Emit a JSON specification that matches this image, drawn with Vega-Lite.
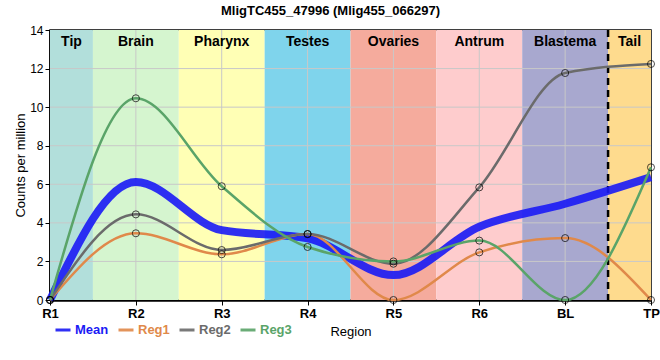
{
  "$schema": "https://vega.github.io/schema/vega-lite/v6.json",
  "width": 601,
  "height": 270,
  "autosize": "none",
  "padding": {"left": 50, "top": 30, "right": 9, "bottom": 60},
  "title": {"text": "MligTC455_47996 (Mlig455_066297)", "fontSize": 13, "fontWeight": "bold", "font": "Liberation Sans", "offset": 6, "dx": -20, "color": "#000"},
  "config": {
    "font": "Liberation Sans",
    "view": {"stroke": "#000", "strokeWidth": 1.5},
    "axis": {"grid": false},
    "axisY": {"tickCount": 8, "labelOverlap": false}
  },
  "datasets": {
    "bands": [
      {"region": "Tip", "start": 0, "end": 0.5, "mid": 0.25},
      {"region": "Brain", "start": 0.5, "end": 1.5, "mid": 1},
      {"region": "Pharynx", "start": 1.5, "end": 2.5, "mid": 2},
      {"region": "Testes", "start": 2.5, "end": 3.5, "mid": 3},
      {"region": "Ovaries", "start": 3.5, "end": 4.5, "mid": 4},
      {"region": "Antrum", "start": 4.5, "end": 5.5, "mid": 5},
      {"region": "Blastema", "start": 5.5, "end": 6.5, "mid": 6},
      {"region": "Tail", "start": 6.5, "end": 7, "mid": 6.75}
    ],
    "xgrid": [{"p": 1}, {"p": 2}, {"p": 3}, {"p": 4}, {"p": 5}, {"p": 6}],
    "ygrid": [{"v": 2}, {"v": 4}, {"v": 6}, {"v": 8}, {"v": 10}, {"v": 12}],
    "lines": [
      {"series": "Mean", "pos": 0, "value": 0},
      {"series": "Mean", "pos": 1, "value": 6.12},
      {"series": "Mean", "pos": 2, "value": 3.62},
      {"series": "Mean", "pos": 3, "value": 3.2},
      {"series": "Mean", "pos": 4, "value": 1.29},
      {"series": "Mean", "pos": 5, "value": 3.8},
      {"series": "Mean", "pos": 6, "value": 4.99},
      {"series": "Mean", "pos": 7, "value": 6.37},
      {"series": "Reg1", "pos": 0, "value": 0},
      {"series": "Reg1", "pos": 1, "value": 3.46},
      {"series": "Reg1", "pos": 2, "value": 2.37},
      {"series": "Reg1", "pos": 3, "value": 3.42},
      {"series": "Reg1", "pos": 4, "value": 0},
      {"series": "Reg1", "pos": 5, "value": 2.47},
      {"series": "Reg1", "pos": 6, "value": 3.21},
      {"series": "Reg1", "pos": 7, "value": 0},
      {"series": "Reg2", "pos": 0, "value": 0},
      {"series": "Reg2", "pos": 1, "value": 4.44},
      {"series": "Reg2", "pos": 2, "value": 2.59},
      {"series": "Reg2", "pos": 3, "value": 3.42},
      {"series": "Reg2", "pos": 4, "value": 1.88},
      {"series": "Reg2", "pos": 5, "value": 5.84},
      {"series": "Reg2", "pos": 6, "value": 11.77},
      {"series": "Reg2", "pos": 7, "value": 12.24},
      {"series": "Reg3", "pos": 0, "value": 0},
      {"series": "Reg3", "pos": 1, "value": 10.46},
      {"series": "Reg3", "pos": 2, "value": 5.9},
      {"series": "Reg3", "pos": 3, "value": 2.75},
      {"series": "Reg3", "pos": 4, "value": 2.0},
      {"series": "Reg3", "pos": 5, "value": 3.08},
      {"series": "Reg3", "pos": 6, "value": 0},
      {"series": "Reg3", "pos": 7, "value": 6.88}
    ]
  },
  "layer": [
    {
      "data": {"name": "bands"},
      "mark": {"type": "rect"},
      "encoding": {
        "x": {"field": "start", "type": "quantitative", "scale": {"domain": [0, 7], "nice": false, "zero": false}},
        "x2": {"field": "end"},
        "y": {"datum": 0, "type": "quantitative", "scale": {"domain": [0, 14], "nice": false}},
        "y2": {"datum": 14},
        "fill": {"field": "region", "type": "nominal", "legend": null,
          "scale": {"domain": ["Tip", "Brain", "Pharynx", "Testes", "Ovaries", "Antrum", "Blastema", "Tail"],
            "range": ["#b2dfdb", "#d5f5cf", "#ffffb5", "#7fd4ec", "#f5ab9d", "#fecccd", "#a8a8cf", "#fedb8e"]}}
      }
    },
    {
      "data": {"name": "xgrid"},
      "mark": {"type": "rule", "color": "#c8c8c8", "strokeWidth": 1},
      "encoding": {"x": {"field": "p", "type": "quantitative",
          "axis": {"values": [0, 1, 2, 3, 4, 5, 6, 7], "labelExpr": "['R1','R2','R3','R4','R5','R6','BL','TP'][datum.value]", "title": "Region", "labelFontWeight": "bold", "labelFontSize": 13, "labelColor": "#000", "titleFontSize": 13, "titleFontWeight": "normal", "titleColor": "#000", "domainColor": "#000", "domainWidth": 2.5, "tickColor": "#000", "tickSize": 5, "labelPadding": 2, "titlePadding": 5, "labelFlush": false, "labelOverlap": false}}}
    },
    {
      "data": {"name": "ygrid"},
      "mark": {"type": "rule", "color": "#c8c8c8", "strokeWidth": 1},
      "encoding": {"y": {"field": "v", "type": "quantitative",
          "axis": {"values": [0, 2, 4, 6, 8, 10, 12, 14], "tickCount": 8, "title": "Counts per million", "labelFontSize": 12, "labelColor": "#000", "titleFontSize": 13, "titleFontWeight": "normal", "titleColor": "#000", "domainColor": "#000", "domainWidth": 2.5, "tickColor": "#000", "tickSize": 5, "titlePadding": 2, "labelOverlap": false}}}
    },
    {
      "data": {"name": "bands"},
      "mark": {"type": "text", "fontSize": 14, "fontWeight": "bold", "baseline": "top", "dy": 5, "color": "#000"},
      "encoding": {
        "x": {"field": "mid", "type": "quantitative"},
        "y": {"datum": 14, "type": "quantitative"},
        "text": {"field": "region"}
      }
    },
    {
      "data": {"values": [{"b": 6.5}]},
      "mark": {"type": "rule", "color": "#000", "strokeWidth": 2.5, "strokeDash": [7, 5]},
      "encoding": {"x": {"field": "b", "type": "quantitative"}}
    },
    {
      "data": {"name": "lines"},
      "transform": [{"filter": "datum.series === 'Mean'"}],
      "mark": {"type": "line", "interpolate": "monotone", "strokeWidth": 8, "opacity": 0.9},
      "encoding": {
        "x": {"field": "pos", "type": "quantitative"},
        "y": {"field": "value", "type": "quantitative"},
        "color": {"field": "series", "type": "nominal",
          "scale": {"domain": ["Mean", "Reg1", "Reg2", "Reg3"], "range": ["#1a1af5", "#e0894a", "#6b6b6b", "#5aa469"]},
          "legend": {"title": null, "orient": "none", "legendX": 4, "legendY": 291, "direction": "horizontal",
            "symbolType": "stroke", "symbolSize": 225, "symbolStrokeWidth": 3,
            "labelColor": {"expr": "scale('color', datum.value)"},
            "labelFontSize": 13, "labelFontWeight": "bold", "labelFont": "Liberation Sans", "columnPadding": 3, "labelOffset": 3,
            "encode": {
              "symbols": {"strokeWidth": {"value": {"expr": "datum.value === 'Mean' ? 8 : 3"}}}
            }}
        }
      }
    },
    {
      "data": {"name": "lines"},
      "transform": [{"filter": "datum.series !== 'Mean'"}],
      "mark": {"type": "line", "interpolate": "monotone", "strokeWidth": 2.5},
      "encoding": {
        "x": {"field": "pos", "type": "quantitative"},
        "y": {"field": "value", "type": "quantitative"},
        "color": {"field": "series", "type": "nominal"}
      }
    },
    {
      "data": {"name": "lines"},
      "transform": [{"filter": "datum.series !== 'Mean'"}],
      "mark": {"type": "point", "filled": false, "color": "#000", "size": 50, "strokeWidth": 1},
      "encoding": {
        "x": {"field": "pos", "type": "quantitative"},
        "y": {"field": "value", "type": "quantitative"}
      }
    }
  ]
}
